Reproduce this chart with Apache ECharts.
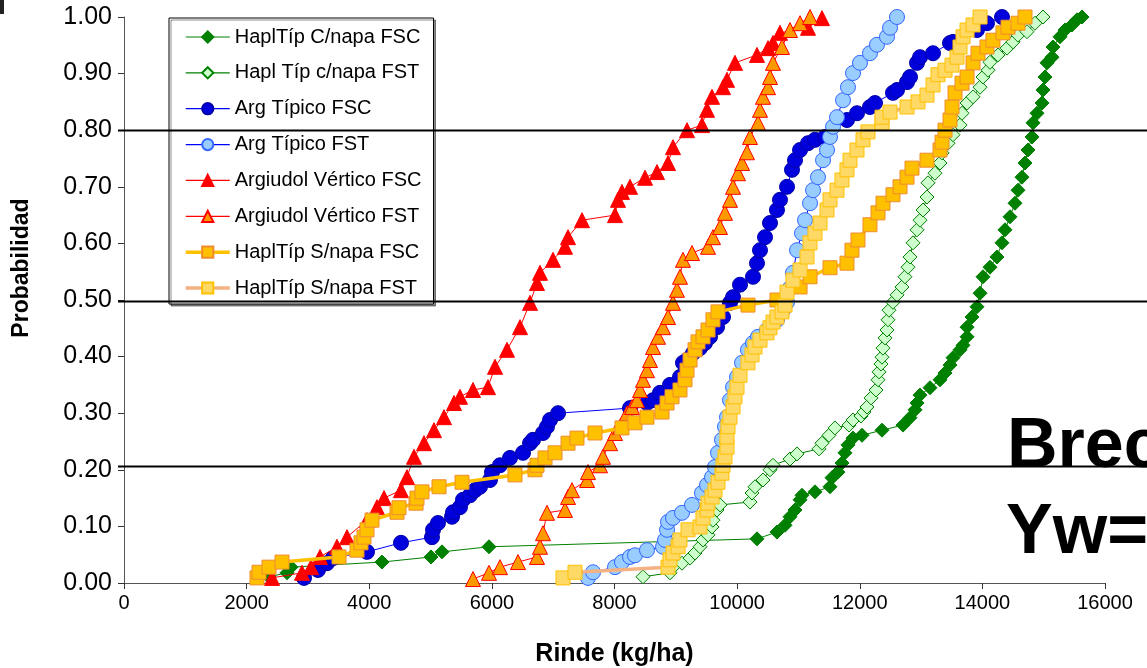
<!DOCTYPE html>
<html><head><meta charset="utf-8">
<script src="https://cdn.jsdelivr.net/npm/echarts@6/dist/echarts.min.js"></script>
<style>html,body{margin:0;padding:0;background:#fff}#c{width:1147px;height:668px}</style>
</head><body><div id="c"></div>
<script>
const seriesNames = ['HaplTíp C/napa FSC','Hapl Típ c/napa FST','Arg Típico FSC','Arg Típico FST','Argiudol Vértico FSC','Argiudol Vértico FST','HaplTíp S/napa FSC','HaplTíp S/napa FST'];
const yTickLabels = ['0.00','0.10','0.20','0.30','0.40','0.50','0.60','0.70','0.80','0.90','1.00'];
const xTickLabels = ['0','2000','4000','6000','8000','10000','12000','14000','16000'];
const refLines = [0.80, 0.498, 0.207];
const notes = ['Brec', 'Yw='];
const axisTitles = {x: 'Rinde (kg/ha)', y: 'Probabilidad'};

const hcFSC = [[2365,0.011],[2659,0.018],[2724,0.028],[4208,0.037],[5007,0.046],[5187,0.055],[5953,0.064],[10324,0.078],[10650,0.090],[10781,0.102],[10862,0.117],[10944,0.129],[11026,0.147],[11058,0.155],[11270,0.161],[11515,0.170],[11547,0.186],[11645,0.196],[11710,0.212],[11759,0.230],[11808,0.244],[11890,0.256],[12037,0.261],[12363,0.270],[12706,0.279],[12820,0.292],[12902,0.306],[12934,0.318],[12983,0.332],[13146,0.345],[13309,0.359],[13391,0.371],[13472,0.385],[13521,0.398],[13635,0.412],[13684,0.420],[13750,0.435],[13750,0.452],[13831,0.470],[13912,0.488],[13962,0.512],[14010,0.541],[14124,0.558],[14238,0.576],[14320,0.601],[14369,0.624],[14451,0.647],[14532,0.671],[14581,0.694],[14646,0.717],[14695,0.742],[14744,0.765],[14810,0.788],[14826,0.813],[14891,0.830],[14973,0.848],[14989,0.871],[15022,0.894],[15054,0.919],[15136,0.929],[15152,0.947],[15266,0.965],[15348,0.977],[15462,0.986],[15543,0.995],[15625,1.0]];
const hcFST = [[8465,0.011],[8905,0.018],[8954,0.028],[9101,0.035],[9232,0.044],[9313,0.053],[9394,0.064],[9443,0.076],[9525,0.085],[9590,0.099],[9606,0.111],[9672,0.129],[9721,0.138],[10210,0.143],[10243,0.159],[10292,0.170],[10422,0.182],[10536,0.200],[10585,0.208],[10862,0.219],[10977,0.228],[11335,0.237],[11384,0.247],[11498,0.261],[11596,0.274],[11825,0.279],[11890,0.288],[12020,0.295],[12069,0.302],[12118,0.311],[12184,0.327],[12265,0.341],[12298,0.359],[12314,0.373],[12347,0.387],[12363,0.399],[12379,0.415],[12412,0.433],[12444,0.447],[12461,0.465],[12477,0.482],[12542,0.496],[12608,0.509],[12689,0.523],[12738,0.541],[12787,0.558],[12820,0.576],[12869,0.601],[12934,0.624],[12983,0.641],[13032,0.659],[13097,0.682],[13113,0.707],[13227,0.724],[13309,0.742],[13342,0.760],[13440,0.777],[13521,0.792],[13635,0.809],[13668,0.830],[13750,0.848],[13848,0.859],[13962,0.876],[14010,0.894],[14092,0.906],[14124,0.920],[14255,0.933],[14402,0.945],[14500,0.956],[14581,0.968],[14728,0.974],[14858,0.989],[14989,1.0]];
const atFSC = [[2936,0.009],[3164,0.023],[3311,0.035],[3409,0.044],[3963,0.055],[4518,0.071],[5023,0.081],[5040,0.094],[5121,0.106],[5350,0.117],[5366,0.125],[5480,0.134],[5529,0.147],[5643,0.155],[5725,0.164],[5806,0.170],[5969,0.182],[6002,0.196],[6132,0.208],[6296,0.221],[6508,0.230],[6622,0.247],[6671,0.253],[6834,0.265],[6899,0.276],[6948,0.288],[7079,0.300],[8253,0.309],[8530,0.318],[8628,0.323],[8742,0.336],[8905,0.350],[9068,0.364],[9117,0.389],[9183,0.394],[9280,0.406],[9394,0.415],[9476,0.424],[9558,0.435],[9672,0.452],[9770,0.470],[9884,0.495],[9933,0.505],[10047,0.527],[10259,0.541],[10324,0.565],[10373,0.588],[10455,0.611],[10536,0.636],[10650,0.659],[10699,0.677],[10814,0.700],[10895,0.730],[10944,0.747],[11026,0.765],[11156,0.777],[11270,0.783],[11433,0.788],[11792,0.818],[11955,0.830],[12167,0.841],[12249,0.848],[12542,0.866],[12608,0.871],[12771,0.885],[12820,0.894],[12934,0.919],[12983,0.929],[13195,0.936],[13472,0.954],[13521,0.956],[13912,0.977],[14075,0.989],[14320,1.0]];
const atFST = [[7568,0.009],[7650,0.019],[8008,0.028],[8122,0.037],[8253,0.046],[8334,0.049],[8530,0.058],[8791,0.064],[8824,0.076],[8857,0.094],[8873,0.108],[8954,0.115],[9101,0.124],[9264,0.138],[9427,0.159],[9509,0.173],[9590,0.187],[9639,0.205],[9688,0.230],[9753,0.253],[9802,0.276],[9835,0.293],[9884,0.323],[9933,0.346],[9998,0.364],[10080,0.389],[10177,0.412],[10259,0.424],[10341,0.435],[10487,0.447],[10650,0.465],[10748,0.482],[10813,0.496],[10862,0.521],[10911,0.548],[10977,0.588],[11058,0.618],[11107,0.641],[11189,0.671],[11238,0.694],[11319,0.717],[11401,0.747],[11466,0.765],[11515,0.788],[11564,0.806],[11629,0.823],[11727,0.853],[11808,0.876],[11890,0.901],[12004,0.919],[12167,0.936],[12281,0.951],[12444,0.965],[12494,0.981],[12608,1.0]];
const avFSC = [[2414,0.009],[2903,0.018],[3050,0.028],[3197,0.046],[3474,0.064],[3637,0.081],[3963,0.111],[4126,0.134],[4241,0.150],[4518,0.164],[4616,0.187],[4730,0.223],[4893,0.247],[5056,0.270],[5219,0.293],[5382,0.318],[5480,0.329],[5692,0.341],[5937,0.346],[6051,0.382],[6247,0.412],[6459,0.452],[6622,0.495],[6736,0.530],[6785,0.548],[6997,0.571],[7193,0.594],[7242,0.611],[7470,0.641],[8008,0.650],[8057,0.677],[8122,0.691],[8253,0.700],[8498,0.716],[8693,0.726],[8873,0.742],[8954,0.770],[9183,0.800],[9427,0.809],[9509,0.836],[9590,0.859],[9770,0.876],[9835,0.889],[9965,0.919],[10324,0.933],[10504,0.945],[10585,0.954],[10699,0.972],[11156,0.981],[11384,0.998]];
const avFST = [[5692,0.007],[5953,0.018],[6132,0.028],[6426,0.037],[6736,0.046],[6785,0.064],[6834,0.088],[6899,0.124],[7193,0.129],[7242,0.152],[7307,0.164],[7552,0.182],[7568,0.196],[7764,0.208],[7812,0.223],[7927,0.247],[8008,0.265],[8090,0.276],[8204,0.300],[8286,0.311],[8367,0.323],[8416,0.341],[8465,0.359],[8530,0.376],[8579,0.394],[8628,0.417],[8710,0.435],[8791,0.452],[8873,0.470],[8954,0.495],[9019,0.518],[9068,0.541],[9117,0.571],[9264,0.583],[9525,0.594],[9606,0.611],[9721,0.629],[9802,0.654],[9884,0.677],[9933,0.700],[10014,0.724],[10080,0.742],[10161,0.761],[10210,0.788],[10341,0.813],[10373,0.836],[10422,0.859],[10504,0.876],[10536,0.894],[10585,0.919],[10732,0.947],[10862,0.977],[11026,0.989],[11189,1.0]];
const hsFSC = [[2169,0.009],[2202,0.019],[2365,0.028],[2577,0.037],[3507,0.046],[3800,0.058],[3865,0.071],[3914,0.081],[3963,0.094],[4045,0.111],[4453,0.125],[4485,0.133],[4763,0.141],[4779,0.150],[4860,0.161],[5138,0.170],[5513,0.178],[6377,0.191],[6703,0.200],[6736,0.208],[6867,0.221],[7030,0.230],[7242,0.247],[7388,0.256],[7682,0.265],[8122,0.274],[8334,0.283],[8530,0.293],[8775,0.302],[8857,0.318],[8938,0.329],[9068,0.341],[9150,0.359],[9183,0.376],[9232,0.394],[9313,0.412],[9362,0.426],[9443,0.435],[9525,0.447],[9606,0.465],[9688,0.479],[10177,0.491],[10650,0.500],[11026,0.523],[11189,0.541],[11515,0.557],[11792,0.565],[11873,0.588],[11971,0.606],[12167,0.633],[12298,0.654],[12379,0.671],[12542,0.686],[12657,0.700],[12771,0.717],[12852,0.733],[13097,0.747],[13309,0.765],[13342,0.779],[13391,0.800],[13472,0.818],[13505,0.841],[13554,0.866],[13668,0.883],[13750,0.894],[13848,0.919],[13929,0.936],[14075,0.947],[14173,0.959],[14336,0.972],[14418,0.982],[14581,0.989],[14695,1.0]];
const hsFST = [[7160,0.009],[7356,0.019],[8873,0.028],[8905,0.041],[8954,0.053],[9036,0.064],[9068,0.076],[9199,0.094],[9394,0.099],[9443,0.115],[9509,0.129],[9525,0.141],[9590,0.152],[9639,0.164],[9688,0.178],[9753,0.194],[9770,0.208],[9802,0.223],[9835,0.240],[9835,0.258],[9851,0.276],[9884,0.293],[9933,0.311],[9965,0.329],[9998,0.346],[10047,0.367],[10177,0.389],[10243,0.403],[10292,0.417],[10373,0.429],[10487,0.442],[10536,0.451],[10585,0.461],[10650,0.470],[10732,0.479],[10781,0.491],[10813,0.514],[10911,0.535],[11026,0.553],[11140,0.576],[11189,0.601],[11270,0.618],[11352,0.636],[11466,0.659],[11515,0.677],[11629,0.694],[11710,0.712],[11792,0.730],[11841,0.747],[11955,0.765],[12053,0.783],[12134,0.797],[12363,0.813],[12363,0.823],[12494,0.832],[12771,0.841],[12950,0.850],[13097,0.862],[13195,0.880],[13276,0.898],[13391,0.906],[13505,0.915],[13586,0.929],[13635,0.947],[13684,0.965],[13750,0.977],[13848,0.986],[13962,1.0]];

const seriesData = [hcFSC, hcFST, atFSC, atFST, avFSC, avFST, hsFSC, hsFST];
const FONT = "'Liberation Sans', Arial, sans-serif";

const styles = [
  {line:'#008000', lw:1, sym:'diamond', size:14, fill:'#008000', border:'#008000'},
  {line:'#008000', lw:1, sym:'diamond', size:14, fill:'#CCFFCC', border:'#008000'},
  {line:'#0000FF', lw:1, sym:'circle', size:15, fill:'#0000DD', border:'#0000AA'},
  {line:'#0000FF', lw:1, sym:'circle', size:15, fill:'#99CCFF', border:'#3366FF'},
  {line:'#FF0000', lw:1, sym:'triangle', size:15, fill:'#FF0000', border:'#FF0000'},
  {line:'#FF0000', lw:1, sym:'triangle', size:15, fill:'#FF9900', border:'#FF0000'},
  {line:'#FFC000', lw:3.5, sym:'rect', size:14, fill:'#FFC000', border:'#F08C30'},
  {line:'#F4B183', lw:3.5, sym:'rect', size:14, fill:'#FFD966', border:'#FFC000'}
];

const chart = echarts.init(document.getElementById('c'), null, {renderer:'canvas'});
const series = seriesNames.map((n, i) => ({
  name: n, type: 'line', data: seriesData[i],
  symbol: styles[i].sym, symbolSize: styles[i].size, showAllSymbol: true,
  lineStyle: {color: styles[i].line, width: styles[i].lw},
  itemStyle: {color: styles[i].fill, borderColor: styles[i].border, borderWidth: 1},
  z: 2 + i, animation: false
}));
const legendData = seriesNames.map((n, i) => ({
  name: n, lineStyle: {color: styles[i].line, width: styles[i].lw > 1 ? 3.5 : 1.2}
}));

chart.setOption({
  animation: false,
  backgroundColor: '#fff',
  grid: {left: 124, right: 42, top: 17, bottom: 85, containLabel: false, outerBoundsMode: 'none'},
  xAxis: {
    type: 'value', min: 0, max: 16000, interval: 2000,
    name: axisTitles.x, nameLocation: 'middle', nameGap: 59,
    nameTextStyle: {fontFamily: FONT, fontWeight: 'bold', fontSize: 25, color: '#000'},
    axisLine: {lineStyle: {color: '#555', width: 1}},
    axisTick: {show: true, length: 6, lineStyle: {color: '#333'}},
    axisLabel: {fontFamily: FONT, fontSize: 20, color: '#000', margin: 10,
      formatter: (v) => xTickLabels[Math.round(v / 2000)]},
    splitLine: {show: false}
  },
  yAxis: {
    type: 'value', min: 0, max: 1, interval: 0.1,
    axisLine: {show: true, lineStyle: {color: '#555', width: 1}},
    axisTick: {show: true, length: 6, lineStyle: {color: '#333'}},
    axisLabel: {fontFamily: FONT, fontSize: 25, color: '#000', margin: 12,
      formatter: (v) => yTickLabels[Math.round(v * 10)]},
    splitLine: {show: false}
  },
  legend: {
    data: legendData, orient: 'vertical', left: 169, top: 18,
    padding: [9, 12, 6, 15], itemGap: 15.86, itemWidth: 44, itemHeight: 14,
    backgroundColor: '#fff', borderColor: '#000', borderWidth: 1,
    shadowColor: 'rgba(0,0,0,0.45)', shadowOffsetX: 2, shadowOffsetY: 2, shadowBlur: 0,
    textStyle: {fontFamily: FONT, fontSize: 20, color: '#000'},
    selectedMode: false
  },
  series: series
});

function drawOverlay() {
  const x0 = chart.convertToPixel({xAxisIndex: 0}, 0) - 6;
  const x1 = chart.getWidth();
  const g = refLines.map(v => {
    const y = Math.round(chart.convertToPixel({yAxisIndex: 0}, v)) + 0.5;
    return {type: 'line', shape: {x1: x0, y1: y, x2: x1, y2: y}, style: {stroke: '#000', lineWidth: 2}, z: 100};
  });
  g.push({type: 'text', x: 22, y: 268, rotation: Math.PI / 2, z: 101,
    style: {text: axisTitles.y, font: "bold 23px 'Liberation Sans', Arial, sans-serif", fill: '#000', align: 'center', verticalAlign: 'middle'}});
  g.push({type: 'text', left: 1007, top: 413, z: 101,
    style: {text: notes[0], font: "bold 70px 'Liberation Sans', Arial, sans-serif", fill: '#000'}});
  g.push({type: 'text', left: 1006, top: 499, z: 101,
    style: {text: notes[1], font: "bold 70px 'Liberation Sans', Arial, sans-serif", fill: '#000'}});
  g.push({type: 'rect', shape: {x: 0, y: 0, width: 4, height: 14}, style: {fill: '#222'}, z: 101});
  chart.setOption({graphic: g});
}
drawOverlay();
</script></body></html>
